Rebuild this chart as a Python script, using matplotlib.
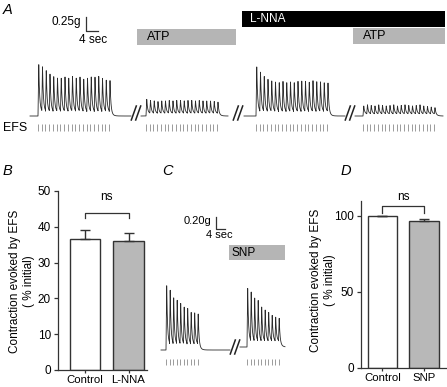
import numpy as np
import matplotlib
matplotlib.use("Agg")
import matplotlib.pyplot as plt
from matplotlib.patches import Rectangle

plt.rcParams['font.family'] = ['Liberation Sans', 'DejaVu Sans']
plt.rcParams['font.size'] = 8.5

# ------------------------------------------------------------------ data
pulse_interval_s = 1.5
# peak twitch amplitudes (g), one value per EFS pulse
trace_a_control = [0.93, 0.88, 0.82, 0.75, 0.71, 0.68, 0.68, 0.70, 0.68, 0.71,
                   0.68, 0.70, 0.66, 0.68, 0.70, 0.70, 0.71, 0.68, 0.64, 0.64]
trace_a_atp = [0.30, 0.28, 0.27, 0.26, 0.27, 0.27, 0.28, 0.27, 0.28, 0.28,
               0.27, 0.28, 0.28, 0.27, 0.28, 0.27, 0.27, 0.27, 0.26, 0.25]
trace_a_lnna = [0.88, 0.79, 0.71, 0.66, 0.63, 0.61, 0.60, 0.62, 0.60, 0.61,
                0.60, 0.62, 0.63, 0.62, 0.61, 0.63, 0.62, 0.61, 0.60, 0.59]
trace_a_lnna_atp = [0.18, 0.20, 0.19, 0.18, 0.20, 0.19, 0.18, 0.19, 0.20, 0.18,
                    0.19, 0.20, 0.19, 0.18, 0.19, 0.20, 0.18, 0.17, 0.16, 0.15]
trace_c_control = [1.08, 1.00, 0.87, 0.83, 0.78, 0.72, 0.70, 0.63, 0.62, 0.60]
trace_c_snp = [0.98, 0.92, 0.82, 0.78, 0.67, 0.62, 0.58, 0.53, 0.50, 0.48]

groups_b = ['Control', 'L-NNA']
mean_b = [36.5, 36.0]
sem_b = [2.6, 2.2]
yticks_b = [0, 10, 20, 30, 40, 50]

groups_d = ['Control', 'SNP']
mean_d = [100.0, 96.7]
sem_d = [0.0, 1.5]
yticks_d = [0, 50, 100]

bar_colors = ['white', '#b8b8b8']
ylabel_text = 'Contraction evoked by EFS\n( % initial)'

# ------------------------------------------------------------------ layout
W, H = 447, 387
fig = plt.figure(figsize=(W / 100, H / 100), dpi=100)


def box(x0, y0, x1, y1):
    return [x0 / W, 1 - y1 / H, (x1 - x0) / W, (y1 - y0) / H]


def twitch_trace(amps, t_first, t_start, t_end, trough, rise=0.3, tau=0.35,
                 tail=0.8, n=4000):
    t = np.linspace(t_start, t_end, n)
    pulses = t_first + pulse_interval_s * np.arange(len(amps))
    y = np.zeros_like(t)
    for k, tk in enumerate(t):
        i = np.searchsorted(pulses, tk, side='right') - 1
        if i < 0:
            continue
        a = amps[i]
        dt = tk - pulses[i]
        start = 0.0 if i == 0 else trough
        if dt < rise:
            y[k] = start + (a - start) * dt / rise
        elif i < len(amps) - 1:
            y[k] = trough + (a - trough) * np.exp(-(dt - rise) / tau)
        else:
            y[k] = (a - trough) * np.exp(-(dt - rise) / tau) + \
                trough * np.exp(-(dt - rise) / tail)
    return t, y, pulses


TRACE_C = '#2a2a2a'
TICK_C = '#8c8c8c'

# ---------------- panel A traces (x in s, y in g)
PXS_A, PXG_A, BASE_A = 2.5, 56.0, 116.0
axA = fig.add_axes(box(0, 0, W, 140))
axA.set_xlim(0, W / PXS_A)
axA.set_ylim(-(140 - BASE_A) / PXG_A, BASE_A / PXG_A)
axA.axis('off')

segs_a = [(trace_a_control, 38, 30, 131, 0.08),
          (trace_a_atp, 146, 141, 228, 0.05),
          (trace_a_lnna, 256, 244, 345, 0.08),
          (trace_a_lnna_atp, 363, 355, 443, 0.04)]
for amps, p_first, p_start, p_end, tr in segs_a:
    t, y, pulses = twitch_trace(amps, p_first / PXS_A, p_start / PXS_A,
                                p_end / PXS_A, tr)
    axA.plot(t, y, color=TRACE_C, lw=0.6)
    axA.vlines(pulses, -(131 - BASE_A) / PXG_A, -(124 - BASE_A) / PXG_A,
               color=TICK_C, lw=0.6)

# ---------------- panel C traces
PXS_C, PXG_C, BASE_C = 3.5 / pulse_interval_s, 60.0, 350.0
X0_C, X1_C, Y0_C, Y1_C = 150, 300, 270, 372
axC = fig.add_axes(box(X0_C, Y0_C, X1_C, Y1_C))
axC.set_xlim(0, (X1_C - X0_C) / PXS_C)
axC.set_ylim(-(Y1_C - BASE_C) / PXG_C, (BASE_C - Y0_C) / PXG_C)
axC.axis('off')
segs_c = [(trace_c_control, 166, 161, 230, 0.10, 0.0),
          (trace_c_snp, 247, 240, 285, 0.10, 0.05)]
for amps, p_first, p_start, p_end, tr, off in segs_c:
    t, y, pulses = twitch_trace(amps, (p_first - X0_C) / PXS_C,
                                (p_start - X0_C) / PXS_C,
                                (p_end - X0_C) / PXS_C, tr)
    axC.plot(t, y + off, color=TRACE_C, lw=0.6)
    axC.vlines(pulses, -(365 - BASE_C) / PXG_C, -(359 - BASE_C) / PXG_C,
               color=TICK_C, lw=0.6)


# ---------------- bar panels
def bar_panel(rect, groups, means, sems, ylim, yticks, xlim, width):
    ax = fig.add_axes(rect)
    x = np.arange(len(groups))
    ax.bar(x, means, width=width, color=bar_colors, edgecolor='#333333',
           linewidth=1.0, zorder=2)
    ax.errorbar(x, means, yerr=[np.zeros(len(sems)), sems], fmt='none',
                ecolor='#333333', elinewidth=1.0, capsize=3.5, capthick=1.0,
                zorder=3)
    ax.set_xlim(*xlim)
    ax.set_ylim(*ylim)
    ax.set_yticks(yticks)
    ax.set_xticks(x)
    ax.set_xticklabels(groups)
    for s in ['top', 'right']:
        ax.spines[s].set_visible(False)
    for s in ['left', 'bottom']:
        ax.spines[s].set_linewidth(0.9)
        ax.spines[s].set_color('#333333')
    ax.tick_params(direction='out', length=3, width=0.9, color='#333333',
                   labelsize=8.5, pad=2)
    ax.tick_params(axis='x', labelsize=8.2, pad=1, length=2.5)
    ax.patch.set_alpha(0)
    return ax


axB = bar_panel(box(58, 191, 147, 370), groups_b, mean_b, sem_b, (0, 50),
                yticks_b, (-0.62, 1.425), 0.69)
axB.plot([0, 0, 1, 1], [42.5, 43.8, 43.8, 42.5], color='#333333', lw=0.9,
         clip_on=False)
axB.text(0.5, 48.2, 'ns', ha='center', va='center', fontsize=8.5)

axD = bar_panel(box(361, 200.8, 446, 367.7), groups_d, mean_d, sem_d,
                (0, 110), yticks_d, (-0.518, 1.53), 0.70)
axD.plot([0, 0, 1, 1], [102, 106.6, 106.6, 102], color='#333333', lw=0.9,
         clip_on=False)
axD.text(0.5, 112.5, 'ns', ha='center', va='center', fontsize=8.5)

# ---------------- overlay (annotations in pixel coordinates)
ov = fig.add_axes([0, 0, 1, 1], zorder=5)
ov.set_xlim(0, W)
ov.set_ylim(H, 0)
ov.axis('off')
ov.patch.set_alpha(0)

lab_kw = dict(fontsize=10.5, style='italic', ha='left', va='center')
ov.text(3, 10, 'A', **lab_kw)
ov.text(3, 171, 'B', **lab_kw)
ov.text(162, 171, 'C', **lab_kw)
ov.text(341, 171, 'D', **lab_kw)

# drug application bars
ov.add_patch(Rectangle((137, 29), 99, 16, color='#b5b5b5', lw=0))
ov.text(147, 37.5, 'ATP', ha='left', va='center', fontsize=9)
ov.add_patch(Rectangle((242, 11), 203, 16, color='black', lw=0))
ov.text(250, 19, 'L-NNA', ha='left', va='center', fontsize=8.5, color='white')
ov.add_patch(Rectangle((353, 28), 92, 16, color='#b5b5b5', lw=0))
ov.text(363, 36, 'ATP', ha='left', va='center', fontsize=9)
ov.add_patch(Rectangle((229, 245), 56, 15, color='#b5b5b5', lw=0))
ov.text(232, 252.5, 'SNP', ha='left', va='center', fontsize=8.5)

# scale bars
ov.plot([86, 86, 86 + 4 * PXS_A + 2], [31 - 0.25 * PXG_A, 31, 31],
        color='#333333', lw=0.9)
ov.text(81, 22, '0.25g', ha='right', va='center', fontsize=8.5)
ov.text(93, 40, '4 sec', ha='center', va='center', fontsize=8.5)
ov.plot([216, 216, 216 + 4 * PXS_C], [229 - 0.20 * PXG_C, 229, 229],
        color='#333333', lw=0.9)
ov.text(211, 221, '0.20g', ha='right', va='center', fontsize=8)
ov.text(219, 235, '4 sec', ha='center', va='center', fontsize=8)

# break marks
for bx, by in [(136, 113), (238, 113), (350, 113), (235, 347)]:
    for dx in (-2.2, 2.2):
        ov.plot([bx + dx - 2.5, bx + dx + 2.5], [by + 7, by - 7],
                color='#222222', lw=1.1)

ov.text(3, 128, 'EFS', ha='left', va='center', fontsize=9)

# y-axis labels
ov.text(22, 281, ylabel_text, rotation=90, ha='center', va='center',
        fontsize=8.5, linespacing=1.25)
ov.text(323, 280, ylabel_text, rotation=90, ha='center', va='center',
        fontsize=8.5, linespacing=1.25)

fig.savefig('out.png', dpi=100)
